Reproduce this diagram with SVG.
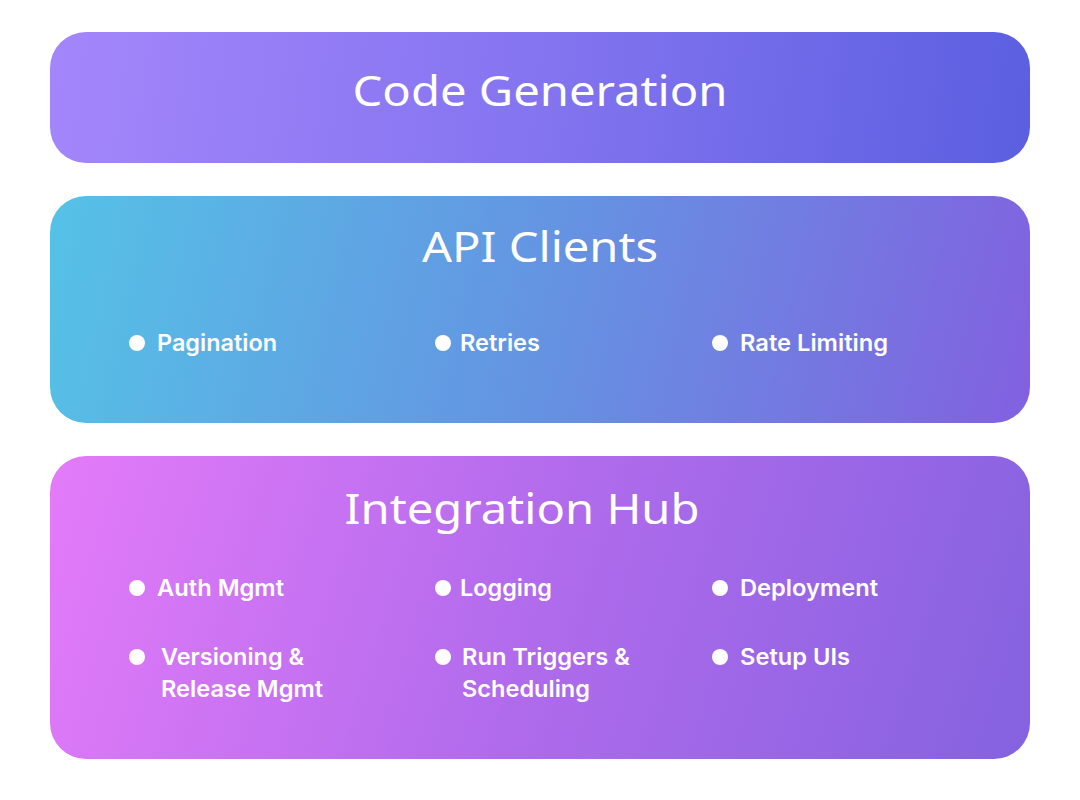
<svg xmlns="http://www.w3.org/2000/svg" width="1080" height="800" viewBox="0 0 1080 800">
<defs>
<linearGradient id="g1" gradientUnits="userSpaceOnUse" x1="50" y1="32" x2="1030" y2="163">
<stop offset="0" stop-color="#a486fb"/><stop offset="0.5" stop-color="#8474f0"/><stop offset="1" stop-color="#5a5fe0"/></linearGradient>
<linearGradient id="g2" gradientUnits="userSpaceOnUse" x1="50" y1="196" x2="1030" y2="423">
<stop offset="0" stop-color="#55c2e6"/><stop offset="0.5" stop-color="#6494e2"/><stop offset="1" stop-color="#8260e0"/></linearGradient>
<linearGradient id="g3" gradientUnits="userSpaceOnUse" x1="50" y1="456" x2="1030" y2="759">
<stop offset="0" stop-color="#e47bf9"/><stop offset="0.5" stop-color="#b06bec"/><stop offset="1" stop-color="#8462e0"/></linearGradient>
<style>
.title{font-family:"Noto Sans","Open Sans",sans-serif;font-weight:400;font-size:42px;fill:#fff;text-anchor:middle}
.item{font-family:Inter,"Noto Sans",sans-serif;font-weight:600;font-size:23px;fill:#fff}
.dot{fill:#fff}
</style>
</defs>
<rect width="1080" height="800" fill="#fff"/>
<g id="code-generation">
<rect x="50" y="32" width="980" height="131" rx="36" fill="url(#g1)"/>
<text class="title" x="540" y="106" textLength="375" lengthAdjust="spacingAndGlyphs">Code Generation</text>
</g>
<g id="api-clients">
<rect x="50" y="196" width="980" height="227" rx="36" fill="url(#g2)"/>
<text class="title" x="540" y="262" textLength="236" lengthAdjust="spacingAndGlyphs">API Clients</text>
<circle class="dot" cx="137" cy="343" r="8"/><text class="item" x="157" y="351" textLength="120" lengthAdjust="spacingAndGlyphs">Pagination</text>
<circle class="dot" cx="443" cy="343" r="8"/><text class="item" x="460" y="351" textLength="80" lengthAdjust="spacingAndGlyphs">Retries</text>
<circle class="dot" cx="720" cy="343" r="8"/><text class="item" x="740" y="351" textLength="148" lengthAdjust="spacingAndGlyphs">Rate Limiting</text>
</g>
<g id="integration-hub">
<rect x="50" y="456" width="980" height="303" rx="36" fill="url(#g3)"/>
<text class="title" x="522" y="524" textLength="355" lengthAdjust="spacingAndGlyphs">Integration Hub</text>
<circle class="dot" cx="137" cy="588" r="8"/><text class="item" x="157" y="596" textLength="127" lengthAdjust="spacingAndGlyphs">Auth Mgmt</text>
<circle class="dot" cx="443" cy="588" r="8"/><text class="item" x="460" y="596" textLength="92" lengthAdjust="spacingAndGlyphs">Logging</text>
<circle class="dot" cx="720" cy="588" r="8"/><text class="item" x="740" y="596" textLength="138" lengthAdjust="spacingAndGlyphs">Deployment</text>
<circle class="dot" cx="137" cy="657" r="8"/><text class="item" x="161" y="665" textLength="143" lengthAdjust="spacingAndGlyphs">Versioning &amp;</text><text class="item" x="161" y="697" textLength="162" lengthAdjust="spacingAndGlyphs">Release Mgmt</text>
<circle class="dot" cx="443" cy="657" r="8"/><text class="item" x="462" y="665" textLength="168" lengthAdjust="spacingAndGlyphs">Run Triggers &amp;</text><text class="item" x="462" y="697" textLength="128" lengthAdjust="spacingAndGlyphs">Scheduling</text>
<circle class="dot" cx="720" cy="657" r="8"/><text class="item" x="740" y="665" textLength="110" lengthAdjust="spacingAndGlyphs">Setup UIs</text>
</g>
</svg>
